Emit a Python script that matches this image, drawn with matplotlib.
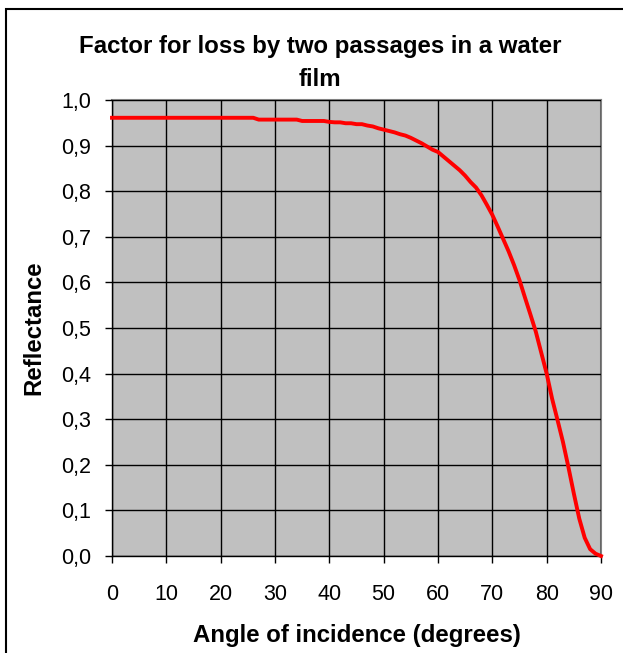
import matplotlib
matplotlib.use("Agg")
import matplotlib.pyplot as plt
from matplotlib.patches import Rectangle

# Kąt padania (stopnie) i współczynnik odbicia
angles = list(range(0, 91))
reflectance = (
    [0.961] * 27                                   # 0-26
    + [0.957] * 8                                  # 27-34
    + [0.954] * 5                                  # 35-39
    + [0.952, 0.951, 0.951, 0.949, 0.949,          # 40-44
       0.947, 0.947, 0.944, 0.942, 0.938,          # 45-49
       0.935, 0.932, 0.929, 0.925, 0.922,          # 50-54
       0.917, 0.911, 0.905, 0.898, 0.891,          # 55-59
       0.886, 0.876, 0.866, 0.856, 0.846,          # 60-64
       0.834, 0.820, 0.808, 0.791, 0.770,          # 65-69
       0.748, 0.722, 0.695, 0.668, 0.638,          # 70-74
       0.605, 0.567, 0.530, 0.492, 0.446,          # 75-79
       0.400, 0.345, 0.298, 0.250, 0.195,          # 80-84
       0.137, 0.082, 0.040, 0.015, 0.005,          # 85-89
       0.0]                                        # 90
)

x_ticks = list(range(0, 91, 10))
y_ticks = [i / 10 for i in range(11)]
y_ticklabels = [f"{v:.1f}".replace(".", ",") for v in y_ticks]

plt.rcParams["font.family"] = ["Liberation Sans", "DejaVu Sans"]

W, H = 623, 653
fig = plt.figure(figsize=(W / 100, H / 100), dpi=100)

# ramka wykresu (prawa i dolna krawędź wychodzą poza obraz)
fig.patches.append(Rectangle((6 / W, -0.05), 1.2, (H - 9) / H + 0.05,
                             transform=fig.transFigure, fill=False,
                             edgecolor="black", linewidth=1.5))

ax = fig.add_axes([112 / W, 1 - 556 / H, (601 - 112) / W, (556 - 100) / H])
ax.set_facecolor("#C0C0C0")

ax.plot(angles, reflectance, color="#FF0000", linewidth=2.8,
        solid_joinstyle="round", clip_on=False, zorder=3)

ax.set_xlim(0, 90)
ax.set_ylim(0, 1)
ax.set_xticks(x_ticks)
ax.set_xticklabels([str(v) for v in x_ticks])
ax.set_yticks(y_ticks)
ax.set_yticklabels(y_ticklabels)
ax.grid(True, color="black", linewidth=1.0)
ax.set_axisbelow(False)
for ln in ax.get_xgridlines() + ax.get_ygridlines():
    ln.set_zorder(2)

ax.tick_params(axis="both", direction="out", length=5, width=1.0,
               labelsize=15.5, color="black")
ax.tick_params(axis="x", pad=15)
ax.tick_params(axis="y", pad=10)

for s in ("left", "bottom"):
    ax.spines[s].set_color("black")
    ax.spines[s].set_linewidth(1.0)
for s in ("top", "right"):
    ax.spines[s].set_color("#808080")
    ax.spines[s].set_linewidth(1.5)

ax.set_xlabel("Angle of incidence (degrees)", fontsize=17.3, fontweight="bold",
              labelpad=14)
ax.set_ylabel("Reflectance", fontsize=17.3, fontweight="bold", labelpad=11)

fig.text(320 / W, 1 - 35.5 / H, "Factor for loss by two passages in a water\nfilm",
         ha="center", va="top", fontsize=17.3, fontweight="bold",
         linespacing=1.55)

fig.savefig("out.png", dpi=100)
